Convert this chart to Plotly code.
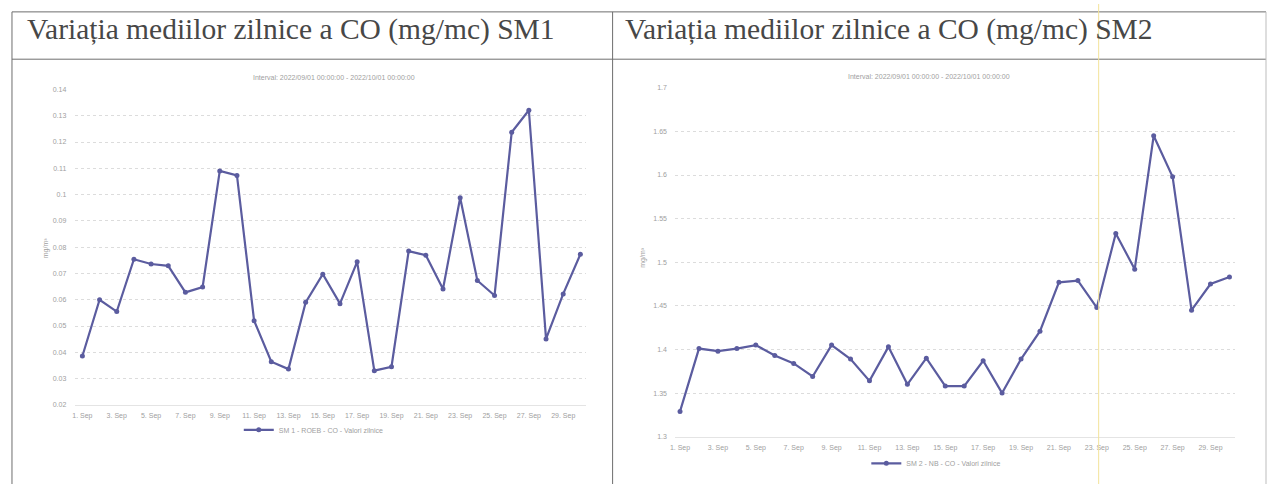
import pandas as pd
import plotly.graph_objects as go

# ---- data ----
dates = pd.date_range("2022-09-01", "2022-09-30", freq="D")
sm1_co = [0.0386, 0.0600, 0.0555, 0.0754, 0.0736, 0.0729, 0.0628, 0.0648, 0.1090, 0.1073,
          0.0520, 0.0364, 0.0336, 0.0590, 0.0697, 0.0585, 0.0744, 0.0330, 0.0345, 0.0785,
          0.0769, 0.0641, 0.0988, 0.0673, 0.0616, 0.1237, 0.1321, 0.0451, 0.0622, 0.0773]
sm2_co = [1.329, 1.401, 1.398, 1.401, 1.405, 1.393, 1.384, 1.369, 1.405, 1.389,
          1.364, 1.403, 1.360, 1.390, 1.358, 1.358, 1.387, 1.350, 1.389, 1.421,
          1.477, 1.479, 1.448, 1.533, 1.492, 1.645, 1.598, 1.445, 1.475, 1.483]
header_left = "Variația mediilor zilnice a CO (mg/mc) SM1"
header_right = "Variația mediilor zilnice a CO (mg/mc) SM2"
chart_title = "Interval: 2022/09/01 00:00:00 - 2022/10/01 00:00:00"
name_sm1 = "SM 1 - ROEB - CO - Valori zilnice"
name_sm2 = "SM 2 - NB - CO - Valori zilnice"
unit = "mg/m³"

W, H = 1268, 487
def px(x): return x / W
def py(y): return 1 - y / H

LINE = "#5b5c9f"
TXT = "#a0a0a0"
GRID = "#dcdcdc"

fig = go.Figure()
fig.add_trace(go.Scatter(x=dates, y=sm1_co, mode="lines+markers", name=name_sm1,
                         line=dict(color=LINE, width=2.2), marker=dict(size=5, color=LINE),
                         xaxis="x", yaxis="y", legend="legend"))
fig.add_trace(go.Scatter(x=dates, y=sm2_co, mode="lines+markers", name=name_sm2,
                         line=dict(color=LINE, width=2.2, dash="solid"), marker=dict(size=5, color=LINE),
                         xaxis="x2", yaxis="y2", legend="legend2"))

day = pd.Timedelta(days=1)
common_x = dict(type="date", tickformat="%-d. %b", dtick=2 * 86400000, tick0=dates[0],
                showgrid=False, showline=True, linecolor="#e4e4e4", linewidth=1,
                tickfont=dict(size=7, color=TXT, family="Arial"),
                ticks="outside", ticklen=4, tickcolor="rgba(0,0,0,0)")
common_y = dict(showgrid=True, gridcolor=GRID, griddash="dot", gridwidth=1, zeroline=False,
                tickfont=dict(size=7, color=TXT, family="Arial"),
                ticks="outside", ticklen=6, tickcolor="rgba(0,0,0,0)")

fig.update_layout(
    width=W, height=H, margin=dict(l=0, r=0, t=0, b=0),
    paper_bgcolor="white", plot_bgcolor="white",
    xaxis=dict(domain=[px(70), px(583)],
               range=[dates[0] - 0.447 * day, dates[-1] + 0.31 * day], anchor="y", **common_x),
    yaxis=dict(domain=[py(406.7), py(86.7)], range=[0.02, 0.14], dtick=0.01, anchor="x",
               **common_y),
    xaxis2=dict(domain=[px(673), px(1235)],
                range=[dates[0] - 0.247 * day, dates[-1] + 0.30 * day], anchor="y2", **common_x),
    yaxis2=dict(domain=[py(439), py(85)], range=[1.3, 1.7], dtick=0.05, anchor="x2",
                **common_y),
    legend=dict(x=px(310), y=py(432), xanchor="center", yanchor="middle",
                font=dict(size=7, color=TXT, family="Arial"), bgcolor="rgba(0,0,0,0)",
                itemwidth=30),
    legend2=dict(x=px(935), y=py(466), xanchor="center", yanchor="middle",
                 font=dict(size=7, color=TXT, family="Arial"), bgcolor="rgba(0,0,0,0)",
                 itemwidth=30),
    showlegend=True,
)

ann = []
for x0, text in [(20, header_left), (620, header_right)]:
    ann.append(dict(x=px(x0), y=py(26), xref="paper", yref="paper", xanchor="left",
                    yanchor="middle", text=text, showarrow=False,
                    font=dict(family="Liberation Serif", size=29.5, color="#474747")))
for xc, yc in [(330, 75), (928, 74)]:
    ann.append(dict(x=px(xc), y=py(yc), xref="paper", yref="paper", xanchor="center",
                    yanchor="middle", text=chart_title, showarrow=False,
                    font=dict(family="Arial", size=7, color=TXT)))
for xc, yc in [(42, 247), (641, 257)]:
    ann.append(dict(x=px(xc), y=py(yc), xref="paper", yref="paper", xanchor="center",
                    yanchor="middle", text=unit, textangle=-90, showarrow=False,
                    font=dict(family="Arial", size=7, color=TXT)))
fig.update_layout(annotations=ann)

shapes = []
lc = dict(color="#6e6e6e", width=1)
shapes.append(dict(type="line", xref="paper", yref="paper", x0=px(7), x1=px(1266), y0=py(8), y1=py(8), line=lc))
shapes.append(dict(type="line", xref="paper", yref="paper", x0=px(7), x1=px(1266), y0=py(56), y1=py(56), line=lc))
shapes.append(dict(type="line", xref="paper", yref="paper", x0=px(7), x1=px(7), y0=py(8), y1=0, line=lc))
shapes.append(dict(type="line", xref="paper", yref="paper", x0=px(610), x1=px(610), y0=py(8), y1=0, line=lc))
shapes.append(dict(type="line", xref="paper", yref="paper", x0=px(1266), x1=px(1266), y0=py(8), y1=0,
                   line=dict(color="#bdbdbd", width=1)))
shapes.append(dict(type="line", xref="paper", yref="paper", x0=px(1098), x1=px(1098), y0=0, y1=1,
                   line=dict(color="#f3e39a", width=1)))
fig.update_layout(shapes=shapes)

fig.write_html("out.html", config={"displayModeBar": False},
               post_script="document.body.style.margin='0';document.body.style.overflow='hidden';")
